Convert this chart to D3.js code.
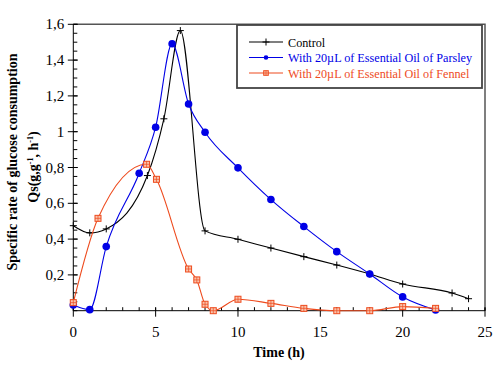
<!DOCTYPE html>
<html><head><meta charset="utf-8">
<script src="https://cdn.jsdelivr.net/npm/d3@7"></script>
</head><body style="margin:0">
<svg id="c" width="500" height="369" font-family="Liberation Serif, Times New Roman, Times, serif"></svg>
<script>
// ---- data ----
const controlX = [0, 1, 2, 4.5, 5.5, 6.5, 8, 10, 12, 14, 16, 18, 20, 23, 24];
const controlY = [0.475, 0.435, 0.457, 0.755, 1.072, 1.565, 0.446, 0.399, 0.350, 0.302, 0.255, 0.205, 0.149, 0.099, 0.067];
const parsleyX = [0, 1, 2, 4, 5, 6, 7, 8, 10, 12, 14, 16, 18, 20, 22];
const parsleyY = [0.032, 0.006, 0.358, 0.768, 1.025, 1.491, 1.155, 0.997, 0.798, 0.621, 0.470, 0.330, 0.205, 0.077, 0.004];
const fennelX = [0, 1.5, 4.45, 5.05, 7, 7.5, 8, 8.5, 10, 12, 14, 16, 18, 20, 22];
const fennelY = [0.045, 0.516, 0.818, 0.734, 0.233, 0.172, 0.036, 0.0, 0.064, 0.041, 0.013, 0.0, 0.0, 0.023, 0.013];
const seriesNames = ["Control", "With 20\u00b5L of Essential Oil of Parsley", "With 20\u00b5L of Essential Oil of Fennel"];
const xTicks = [0, 5, 10, 15, 20, 25];
const yTicks = [0.2, 0.4, 0.6, 0.8, 1, 1.2, 1.4, 1.6];
const yTickLabels = ["0,2", "0,4", "0,6", "0,8", "1", "1,2", "1,4", "1,6"];

const colors = {control: "#000000", parsley: "#0000e6", fennel: "#ee4b1e"};
const FONT = '"Liberation Serif", "Times New Roman", Times, serif';
const svg = d3.select("#c");
const M = {l: 73.3, r: 485, t: 24.3, b: 310.7};
const x = d3.scaleLinear().domain([0, 25]).range([M.l, M.r]);
const y = d3.scaleLinear().domain([0, 1.6]).range([M.b, M.t]);

// frame (top/right)
svg.append("path").attr("d", `M${M.l},${M.t}H${M.r}V${M.b}`).attr("fill", "none")
  .attr("stroke", "#555").attr("stroke-width", 1.5);

// x axis
const gx = svg.append("g").attr("transform", `translate(0,${M.b})`);
gx.append("line").attr("x1", M.l).attr("x2", M.r).attr("stroke", "#000");
gx.selectAll(".mi").data(d3.range(0, 26, 1)).join("line")
  .attr("x1", d => x(d)).attr("x2", d => x(d)).attr("y1", 0).attr("y2", -3.5).attr("stroke", "#000");
gx.selectAll(".ma").data(xTicks).join("line")
  .attr("x1", d => x(d)).attr("x2", d => x(d)).attr("y1", -3).attr("y2", 6).attr("stroke", "#000");
gx.selectAll("text").data(xTicks).join("text")
  .attr("x", d => x(d)).attr("y", 26.5).attr("text-anchor", "middle")
  .style("font-family", FONT).attr("font-size", 15).text(d => d);

// y axis
const gy = svg.append("g").attr("transform", `translate(${M.l},0)`);
gy.append("line").attr("y1", M.t).attr("y2", M.b).attr("stroke", "#000");
gy.selectAll(".mi").data(d3.range(0, 1.6001, 0.05)).join("line")
  .attr("y1", d => y(d)).attr("y2", d => y(d)).attr("x1", 0).attr("x2", 4).attr("stroke", "#000");
gy.selectAll(".ma").data(yTicks).join("line")
  .attr("y1", d => y(d)).attr("y2", d => y(d)).attr("x1", -5.5).attr("x2", 4.5).attr("stroke", "#000");
gy.selectAll("text").data(yTicks).join("text")
  .attr("x", -9).attr("y", d => y(d) + 5).attr("text-anchor", "end")
  .style("font-family", FONT).attr("font-size", 15).text((d, i) => yTickLabels[i]);

// axis titles
svg.append("text").attr("x", 279).attr("y", 357).attr("text-anchor", "middle")
  .style("font-family", FONT).attr("font-size", 14).attr("font-weight", "bold").text("Time (h)");
svg.append("text").attr("transform", "translate(17,162) rotate(-90)").attr("text-anchor", "middle")
  .style("font-family", FONT).attr("font-size", 14).attr("font-weight", "bold")
  .text("Specific rate of glucose consumption");
const t2 = svg.append("text").attr("transform", "translate(38,167) rotate(-90)").attr("text-anchor", "middle")
  .style("font-family", FONT).attr("font-size", 14).attr("font-weight", "bold");
t2.append("tspan").text("Qs(g,g");
t2.append("tspan").attr("font-size", 8).attr("dy", -5).text("-1");
t2.append("tspan").attr("dy", 5).text(", h");
t2.append("tspan").attr("font-size", 8).attr("dy", -5).text("-1");
t2.append("tspan").attr("dy", 5).text(")");

// markers
function plus(g, px, py, c) {
  g.append("path").attr("d", `M${px-3.5},${py}H${px+3.5}M${px},${py-3.5}V${py+3.5}`)
    .attr("stroke", c).attr("stroke-width", 1).attr("fill", "none");
}
function dot(g, px, py, c, r) {
  g.append("circle").attr("cx", px).attr("cy", py).attr("r", r).attr("fill", c);
}
function sq(g, px, py, c, s) {
  g.append("rect").attr("x", px - s).attr("y", py - s).attr("width", 2*s).attr("height", 2*s)
    .attr("fill", "#f9c3ac").attr("stroke", c).attr("stroke-width", 1);
  g.append("path").attr("d", `M${px-s},${py}H${px+s}M${px},${py-s}V${py+s}`)
    .attr("stroke", c).attr("stroke-width", 0.7).attr("fill", "none");
}

function series(xs, ys, c, curve, mk) {
  const pts = xs.map((d, i) => [d, ys[i]]);
  const line = d3.line().x(d => x(d[0])).y(d => y(d[1])).curve(curve);
  const g = svg.append("g");
  g.append("path").attr("d", line(pts)).attr("fill", "none").attr("stroke", c).attr("stroke-width", 1.1);
  pts.forEach(p => mk(g, x(p[0]), y(p[1])));
}
series(controlX, controlY, colors.control, d3.curveMonotoneX, (g, a, b) => plus(g, a, b, colors.control));
series(parsleyX, parsleyY, colors.parsley, d3.curveMonotoneX, (g, a, b) => dot(g, a, b, colors.parsley, 3.8));
series(fennelX, fennelY, colors.fennel, d3.curveMonotoneX, (g, a, b) => sq(g, a, b, colors.fennel, 3));

// legend
const lg = svg.append("g");
lg.append("rect").attr("x", 237).attr("y", 25).attr("width", 245).attr("height", 63)
  .attr("fill", "#fff").attr("stroke", "#444").attr("stroke-width", 1.8);
const lc = [colors.control, colors.parsley, colors.fennel];
const ly = [42, 57.5, 73];
seriesNames.forEach((n, i) => {
  lg.append("line").attr("x1", 249).attr("x2", 283).attr("y1", ly[i]).attr("y2", ly[i])
    .attr("stroke", lc[i]).attr("stroke-width", 1.1);
  if (i === 0) plus(lg, 266, ly[i], lc[i]);
  if (i === 1) dot(lg, 266, ly[i], lc[i], 2.3);
  if (i === 2) sq(lg, 266, ly[i], lc[i], 2.3);
  lg.append("text").attr("x", 288).attr("y", ly[i] + 4.5)
    .style("font-family", FONT).attr("font-size", 12.2).attr("fill", lc[i]).text(n);
});
</script>
</body></html>
